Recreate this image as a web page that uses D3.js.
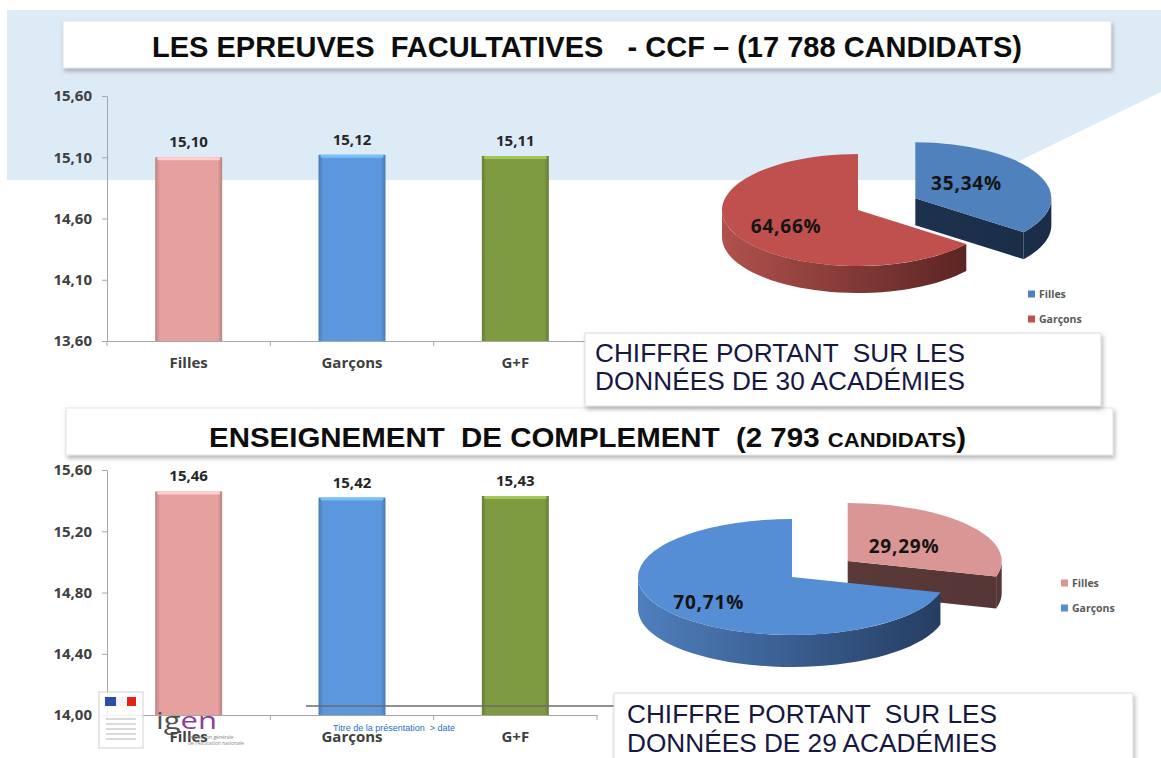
<!DOCTYPE html>
<html>
<head>
<meta charset="utf-8">
<script src="https://cdn.jsdelivr.net/npm/d3@7"></script>
<style>
  body { margin: 0; background: #fff; }
  svg { display: block; }
  text { white-space: pre; }
  .axis path, .axis line { stroke: #a6a6a6; }
  .axis text { font-family: "Open Sans", sans-serif; font-weight: 700; font-size: 15px; fill: #404040; }
</style>
</head>
<body>
<div id="chart"></div>
<script>
// Data
const categories = ["Filles", "Garçons", "G+F"];
const ccfMeans = [15.10, 15.12, 15.11];
const ccfTicks = [13.6, 14.1, 14.6, 15.1, 15.6];
const ecMeans = [15.46, 15.42, 15.43];
const ecTicks = [14.0, 14.4, 14.8, 15.2, 15.6];
const pieNames = ["Filles", "Garçons"];
const ccfShares = [35.34, 64.66];
const ecShares = [29.29, 70.71];
const barColors = ["#E6A19F", "#5C96DC", "#7F9B42"];

const W = 1161, H = 758;
const fr = d3.formatLocale({ decimal: ",", thousands: " ", grouping: [3], currency: ["", " €"] });
const fmt = fr.format(".2f");

const svg = d3.select("#chart").append("svg")
    .attr("width", W)
    .attr("height", H);

const defs = svg.append("defs");

// Shadow for the white boxes
const shadow = defs.append("filter").attr("id", "shadow")
    .attr("x", "-5%").attr("y", "-20%").attr("width", "110%").attr("height", "160%");
shadow.append("feDropShadow")
    .attr("dx", 1.5).attr("dy", 3).attr("stdDeviation", 2)
    .attr("flood-color", "#7f7f7f").attr("flood-opacity", 0.55);

// Bar bevel gradients
barColors.forEach((c, i) => {
    const g = defs.append("linearGradient").attr("id", "bar" + i)
        .attr("x1", "0%").attr("x2", "100%");
    const dark = d3.color(c).darker(0.6);
    g.append("stop").attr("offset", "0%").attr("stop-color", dark);
    g.append("stop").attr("offset", "7%").attr("stop-color", c);
    g.append("stop").attr("offset", "93%").attr("stop-color", c);
    g.append("stop").attr("offset", "100%").attr("stop-color", dark);
});

// Light blue band behind the top
svg.append("path")
    .attr("d", "M7,10 L1161,10 L1161,92 L980,180 L7,180 Z")
    .attr("fill", "#DDEBF7");

// ---------- title boxes ----------
function titleBox(x0, y0, x1, y1) {
    svg.append("rect")
        .attr("x", x0).attr("y", y0)
        .attr("width", x1 - x0).attr("height", y1 - y0)
        .attr("fill", "#fff")
        .attr("stroke", "#e4e4e4")
        .attr("filter", "url(#shadow)");
}

const titleFont = "'Liberation Sans', Arial, sans-serif";

titleBox(63, 21, 1111, 68);
svg.append("text")
    .attr("x", 152).attr("y", 57)
    .attr("textLength", 870).attr("lengthAdjust", "spacingAndGlyphs")
    .style("font-family", titleFont)
    .style("font-weight", 700).style("font-size", "30px").style("fill", "#0d0d0d")
    .text("LES EPREUVES  FACULTATIVES   - CCF – (17 788 CANDIDATS)");

titleBox(66, 408, 1113, 455);
const t2 = svg.append("text")
    .attr("x", 209).attr("y", 447)
    .attr("textLength", 757).attr("lengthAdjust", "spacingAndGlyphs")
    .style("font-family", titleFont)
    .style("font-weight", 700).style("font-size", "28px").style("fill", "#0d0d0d");
t2.append("tspan").text("ENSEIGNEMENT  DE COMPLEMENT  (2 793 ");
t2.append("tspan").style("font-size", "21px").text("CANDIDATS");
t2.append("tspan").text(")");

// ---------- note boxes ----------
function noteBox(x0, y0, x1, y1, lines, tx, baselines) {
    svg.append("rect")
        .attr("x", x0).attr("y", y0)
        .attr("width", x1 - x0).attr("height", y1 - y0)
        .attr("fill", "#fff")
        .attr("stroke", "#dcdcdc")
        .attr("filter", "url(#shadow)");
    lines.forEach((l, i) => {
        svg.append("text")
            .attr("x", tx).attr("y", baselines[i])
            .attr("textLength", 370).attr("lengthAdjust", "spacingAndGlyphs")
            .style("font-family", "'Liberation Sans', Arial, sans-serif")
            .style("font-size", "25px").style("fill", "#17173f")
            .text(l);
    });
}

// ---------- bar charts ----------
function barChart(values, ticks, yTop, yBottom) {
    const g = svg.append("g");
    const x = d3.scaleBand().domain(categories).range([107, 597])
        .paddingInner(0.59).paddingOuter(0.295);
    const y = d3.scaleLinear().domain([ticks[0], ticks[ticks.length - 1]])
        .range([yBottom, yTop]);

    g.append("g").attr("class", "axis")
        .attr("transform", "translate(107,0)")
        .call(d3.axisLeft(y).tickValues(ticks).tickFormat(fmt)
            .tickSize(5).tickSizeOuter(0).tickPadding(10));

    const xa = g.append("g").attr("class", "axis")
        .attr("transform", `translate(0,${yBottom})`)
        .call(d3.axisBottom(x).tickSize(0).tickPadding(16));
    xa.selectAll(".tick text").style("font-size", "15px");

    // Excel style ticks between categories
    g.selectAll(".sep").data(d3.range(categories.length + 1))
        .join("line")
        .attr("x1", i => x.range()[0] + i * x.step())
        .attr("x2", i => x.range()[0] + i * x.step())
        .attr("y1", yBottom).attr("y2", yBottom + 5)
        .attr("stroke", "#a6a6a6");

    return { g, x, y, values, yBottom };
}

function drawBars(c) {
    const { g, x, y, values, yBottom } = c;
    const bars = g.append("g");
    bars.selectAll("rect.bar").data(values).join("rect")
        .attr("class", "bar")
        .attr("x", (d, i) => x(categories[i]))
        .attr("y", d => y(d))
        .attr("width", x.bandwidth())
        .attr("height", d => yBottom - y(d))
        .attr("fill", (d, i) => `url(#bar${i})`);
    bars.selectAll("rect.hi").data(values).join("rect")
        .attr("class", "hi")
        .attr("x", (d, i) => x(categories[i]) + 2)
        .attr("y", d => y(d))
        .attr("width", x.bandwidth() - 4)
        .attr("height", 3)
        .attr("rx", 1.5)
        .attr("fill", (d, i) => d3.color(barColors[i]).brighter(0.7));
    bars.selectAll("text").data(values).join("text")
        .attr("x", (d, i) => x(categories[i]) + x.bandwidth() / 2)
        .attr("y", d => y(d) - 10)
        .attr("text-anchor", "middle")
        .style("font-family", "'Open Sans', sans-serif")
        .style("font-weight", 700).style("font-size", "15px")
        .style("fill", "#262626")
        .text(d => fmt(d));
}

const ccf = barChart(ccfMeans, ccfTicks, 96, 341);
drawBars(ccf);

const ec = barChart(ecMeans, ecTicks, 470, 715);
// footer line of the slide sits behind the bars
svg.append("line")
    .attr("x1", 306).attr("x2", 615).attr("y1", 706).attr("y2", 706)
    .attr("stroke", "#6b6b6b").attr("stroke-width", 1.5);
drawBars(ec);

// ---------- 3D pies ----------
function sideGradient(id, x0, x1, c0, c1) {
    const gr = defs.append("linearGradient").attr("id", id)
        .attr("gradientUnits", "userSpaceOnUse")
        .attr("x1", x0).attr("x2", x1).attr("y1", 0).attr("y2", 0);
    gr.append("stop").attr("offset", "0%").attr("stop-color", c0);
    gr.append("stop").attr("offset", "100%").attr("stop-color", c1);
}

function pie3d(values, cfg) {
    const { cx, cy, rx, ry, depth, explode, tops, sides, labelK, id } = cfg;
    const g = svg.append("g");
    const arcs = d3.pie().sort(null)(values);
    const k = ry / rx;
    const rim = (a, ox, oy, dz = 0) => [cx + ox + rx * Math.sin(a), cy + oy - ry * Math.cos(a) + dz];

    arcs.forEach((d, i) => {
        d.mid = (d.startAngle + d.endAngle) / 2;
        d.ox = explode[i] * Math.sin(d.mid);
        d.oy = -explode[i] * Math.cos(d.mid) * k;
    });

    sides.forEach((s, i) => sideGradient(`${id}side${i}`, cx - rx, cx + rx + 60, s[0], s[1]));

    // back slices first
    const order = arcs.slice().sort((a, b) => (-Math.cos(a.mid)) - (-Math.cos(b.mid)));

    order.forEach(d => {
        const i = d.index;
        const sg = g.append("g");
        const fill = `url(#${id}side${i})`;
        const ax = cx + d.ox, ay = cy + d.oy;

        // radial faces facing the viewer
        [[d.endAngle, Math.sin(d.endAngle) > 0.01], [d.startAngle, Math.sin(d.startAngle) < -0.01]]
            .forEach(([a, vis]) => {
                if (!vis) return;
                const p = rim(a, d.ox, d.oy);
                sg.append("path")
                    .attr("d", `M${ax},${ay} L${p[0]},${p[1]} L${p[0]},${p[1] + depth} L${ax},${ay + depth} Z`)
                    .attr("fill", fill);
            });

        // outer curved side (front half only)
        const a0 = Math.max(d.startAngle, Math.PI / 2);
        const a1 = Math.min(d.endAngle, 3 * Math.PI / 2);
        if (a1 > a0) {
            const ts = d3.range(0, 41).map(j => a0 + (a1 - a0) * j / 40);
            const top = ts.map(t => rim(t, d.ox, d.oy));
            const bot = ts.slice().reverse().map(t => rim(t, d.ox, d.oy, depth));
            sg.append("path")
                .attr("d", "M" + top.concat(bot).map(p => p.join(",")).join("L") + "Z")
                .attr("fill", fill);
        }

        // top face
        sg.append("path")
            .attr("transform", `translate(${ax},${ay}) scale(1,${k})`)
            .attr("d", d3.arc().innerRadius(0).outerRadius(rx)(d))
            .attr("fill", tops[i]);
    });

    // percentage labels
    arcs.forEach((d, i) => {
        g.append("text")
            .attr("x", cx + d.ox + labelK[i][0] * rx * Math.sin(d.mid))
            .attr("y", cy + d.oy - labelK[i][1] * ry * Math.cos(d.mid))
            .attr("dy", "0.35em")
            .attr("text-anchor", "middle")
            .style("font-family", "'Open Sans', sans-serif")
            .style("font-weight", 700).style("font-size", "19px")
            .style("letter-spacing", "0.8px")
            .style("fill", "#141414")
            .text(fmt(d.data) + "%");
    });

    // legend
    const lg = g.append("g").attr("transform", `translate(${cfg.legend[0]},${cfg.legend[1]})`);
    pieNames.forEach((n, i) => {
        lg.append("rect").attr("x", 0).attr("y", i * 25 - 3.5)
            .attr("width", 7).attr("height", 7).attr("fill", tops[i]);
        lg.append("text").attr("x", 11).attr("y", i * 25).attr("dy", "0.35em")
            .style("font-family", "'Open Sans', sans-serif")
            .style("font-weight", 700).style("font-size", "10.5px")
            .style("fill", "#595959")
            .text(n);
    });
}

pie3d(ccfShares, {
    id: "p1", cx: 858, cy: 210, rx: 136, ry: 56, depth: 27,
    explode: [64, 0],
    tops: ["#4F81BD", "#C0504D"],
    sides: [["#22395a", "#1a2c46"], ["#b0514d", "#3d1514"]],
    labelK: [[0.42, 0.6], [0.59, 0.64]],
    legend: [1028, 294]
});

pie3d(ecShares, {
    id: "p2", cx: 792, cy: 577, rx: 154, ry: 58, depth: 32,
    explode: [70, 0],
    tops: ["#D99694", "#558ED5"],
    sides: [["#633f3f", "#553535"], ["#4f7fbd", "#1c2f4e"]],
    labelK: [[0.46, 0.43], [0.68, 0.71]],
    legend: [1061, 583]
});

noteBox(585, 333, 1101, 406,
    ["CHIFFRE PORTANT  SUR LES", "DONNÉES DE 30 ACADÉMIES"], 595, [362, 390]);
noteBox(614, 693, 1133, 770,
    ["CHIFFRE PORTANT  SUR LES", "DONNÉES DE 29 ACADÉMIES"], 627, [723, 752]);

// ---------- slide footer ----------
const foot = svg.append("g");
foot.append("rect").attr("x", 99).attr("y", 692).attr("width", 44).attr("height", 56)
    .attr("fill", "#fff").attr("fill-opacity", 0.85).attr("stroke", "#d0d0d0");
foot.append("rect").attr("x", 105).attr("y", 697).attr("width", 11).attr("height", 9).attr("fill", "#2a4fa8");
foot.append("rect").attr("x", 116).attr("y", 697).attr("width", 8).attr("height", 9).attr("fill", "#f4f4f4");
foot.append("rect").attr("x", 127).attr("y", 697).attr("width", 9).attr("height", 9).attr("fill", "#e0241b");
d3.range(5).forEach(j => foot.append("line")
    .attr("x1", 106).attr("x2", 136).attr("y1", 719 + j * 5).attr("y2", 719 + j * 5)
    .attr("stroke", "#b5b5b5").attr("stroke-width", 1));
const igen = foot.append("text").attr("x", 156).attr("y", 729)
    .attr("textLength", 61).attr("lengthAdjust", "spacingAndGlyphs")
    .style("font-family", "'Open Sans', sans-serif").style("font-size", "23px")
    .style("font-weight", 400);
igen.append("tspan").style("fill", "#505050").text("ig");
igen.append("tspan").style("fill", "#8b3d9c").text("en");
foot.append("text").attr("x", 188).attr("y", 739)
    .style("font-family", "'Open Sans', sans-serif").style("font-size", "5px").style("fill", "#888")
    .text("inspection générale");
foot.append("text").attr("x", 188).attr("y", 745)
    .style("font-family", "'Open Sans', sans-serif").style("font-size", "5px").style("fill", "#888")
    .text("de l'éducation nationale");
foot.append("text").attr("x", 333).attr("y", 731)
    .style("font-family", "'Liberation Sans', Arial, sans-serif").style("font-size", "9px")
    .style("fill", "#1f6fc8")
    .text("Titre de la présentation  > date");
</script>
</body>
</html>
